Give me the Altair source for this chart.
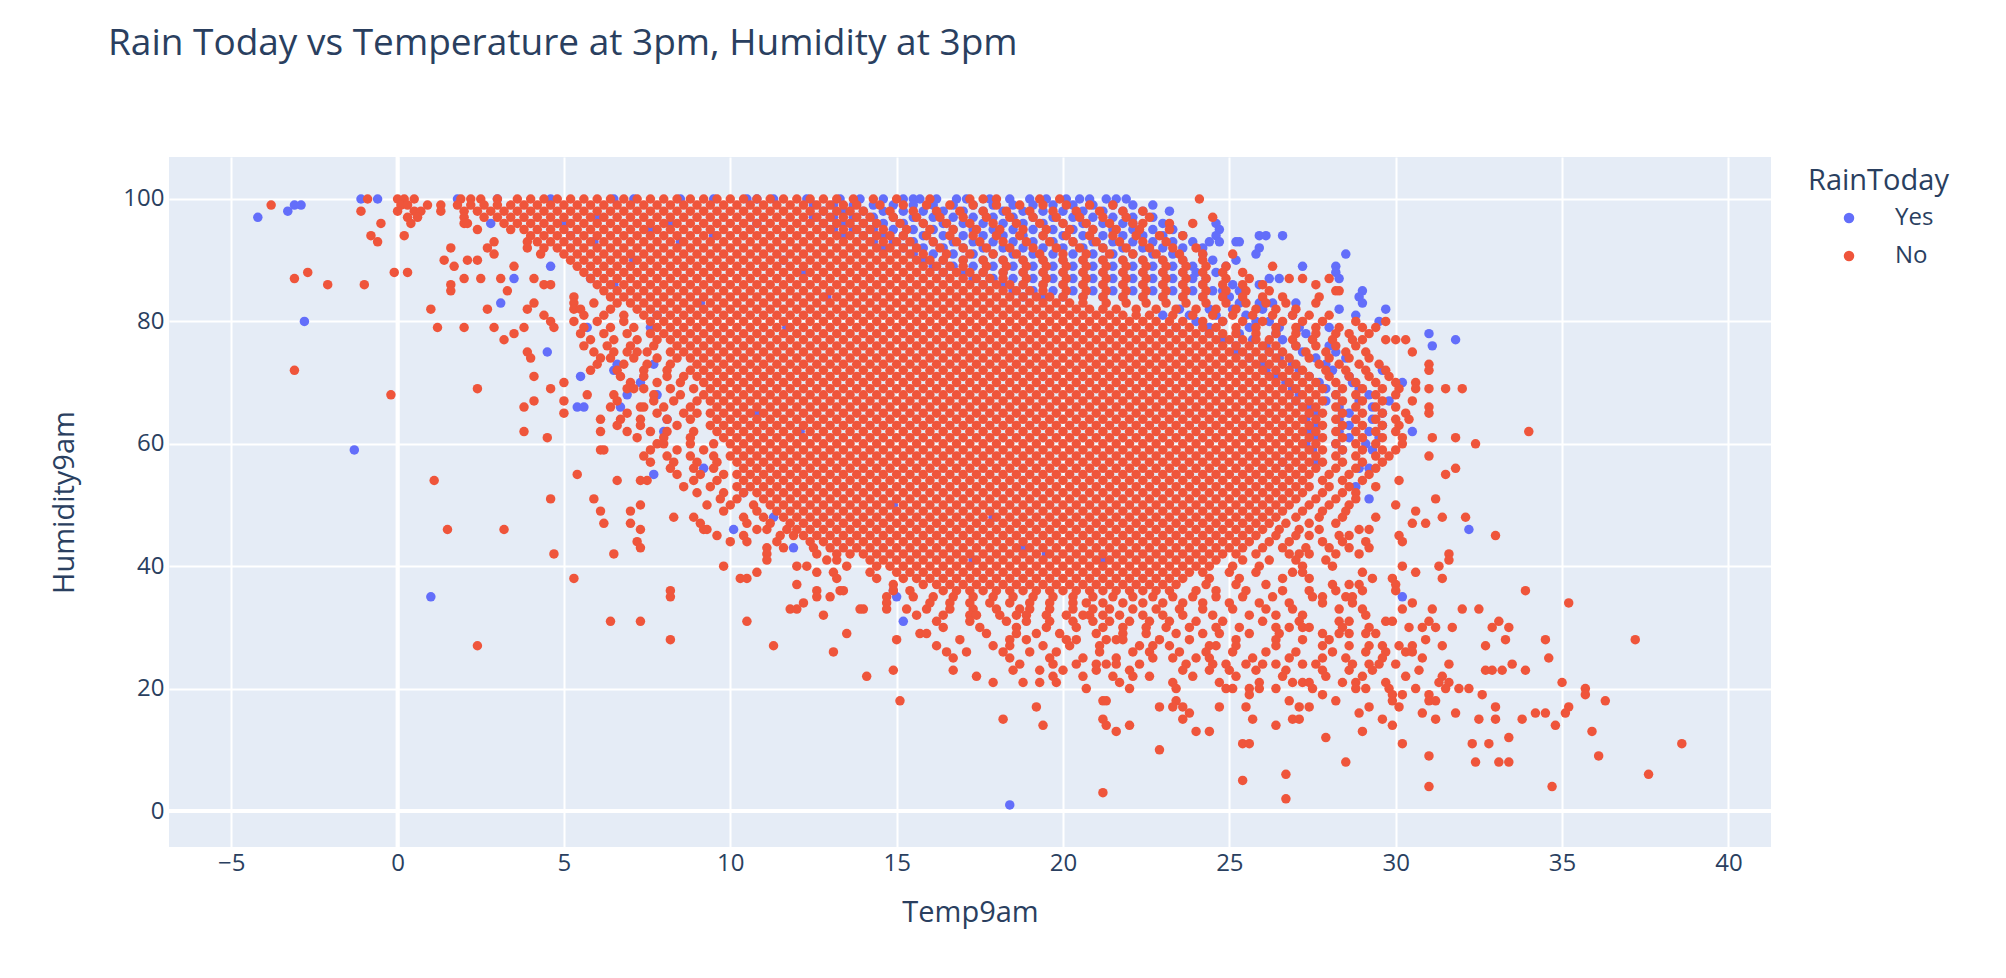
import altair as alt
import pandas as pd

# each row: "Humidity9am: Temp9am readings at that humidity"
# RainToday = No
no_upper = [
    "100: -0.9 0.0 0.2 0.5 1.9 2.2 2.5 3.0 3.6 4.0 4.4 4.8 5.2 5.6 6.0 6.4 6.8 7.2 7.6 8.0 8.4 8.8 9.2 9.6 10.0 10.4 10.8 11.2 11.6 12.0 12.4 12.8 13.2 13.7 14.3 15.0 16.0 17.2 17.6 18.0 19.3 19.9 24.1",
    "99: -3.8 0.1 0.3 0.9 1.3 1.8 2.2 2.6 3.0 3.4 3.8 4.2 4.6 5.0 5.4 5.8 6.2 6.6 7.0 7.4 7.8 8.2 8.6 9.0 9.4 9.8 10.2 10.6 11.0 11.4 11.8 12.2 12.6 13.0 13.4 13.8 14.5 15.2 15.9 16.6 17.3 18.0 18.7 19.4 20.1 20.8 21.5",
    "98: -1.1 0.0 0.5 0.7 1.3 2.0 2.4 2.8 3.2 3.6 4.0 4.4 4.8 5.2 5.6 6.0 6.4 6.8 7.2 7.6 8.0 8.4 8.8 9.2 9.6 10.0 10.4 10.8 11.2 11.6 12.0 12.4 12.8 13.2 13.6 14.0 14.8 15.5 16.2 16.9 17.6 18.3 19.0 19.7 20.4 21.1 21.8 22.4",
    "97: 0.3 0.6 2.0 2.6 3.0 3.4 3.8 4.2 4.6 5.0 5.4 5.8 6.2 6.6 7.0 7.4 7.8 8.2 8.6 9.0 9.4 9.8 10.2 10.6 11.0 11.4 11.8 12.2 12.6 13.0 13.4 13.8 14.2 14.9 15.6 16.3 17.0 17.7 18.4 19.1 19.8 20.5 21.2 21.9 22.6 24.5",
    "96: -0.5 0.4 2.0 2.1 3.2 3.6 4.0 4.4 4.8 5.2 5.6 6.0 6.4 6.8 7.2 7.6 8.0 8.4 8.8 9.2 9.6 10.0 10.4 10.8 11.2 11.6 12.0 12.4 12.8 13.2 13.6 14.0 14.4 15.1 15.8 16.5 17.2 17.9 18.6 19.3 20.0 20.7 21.4 22.1 22.4 23.2 23.9",
    "95: 2.4 3.4 3.8 4.2 4.6 5.0 5.4 5.8 6.2 6.6 7.0 7.4 7.8 8.2 8.6 9.0 9.4 9.8 10.2 10.6 11.0 11.4 11.8 12.2 12.6 13.0 13.4 13.8 14.2 14.6 15.3 16.0 16.7 17.4 18.1 18.8 19.5 20.2 20.9 21.6 22.3 23.2",
    "94: -0.8 0.2 4.0 4.4 4.8 5.2 5.6 6.0 6.4 6.8 7.2 7.6 8.0 8.4 8.8 9.2 9.6 10.0 10.4 10.8 11.2 11.6 12.0 12.4 12.8 13.2 13.6 14.0 14.4 14.8 15.2 15.9 16.6 17.3 18.0 18.7 19.4 20.1 20.8 21.5 22.2 22.9 23.6",
    "93: -0.6 2.9 3.9 4.2 4.6 5.0 5.4 5.8 6.2 6.6 7.0 7.4 7.8 8.2 8.6 9.0 9.4 9.8 10.2 10.6 11.0 11.4 11.8 12.2 12.6 13.0 13.4 13.8 14.2 14.6 15.0 15.4 16.1 16.8 17.5 18.2 18.9 19.6 20.3 21.0 21.7 22.4 23.1",
    "92: 1.6 2.7 3.9 4.4 4.8 5.2 5.6 6.0 6.4 6.8 7.2 7.6 8.0 8.4 8.8 9.2 9.6 10.0 10.4 10.8 11.2 11.6 12.0 12.4 12.8 13.2 13.6 14.0 14.4 14.8 15.2 15.6 16.3 17.0 17.7 18.4 19.1 19.8 20.5 21.2 21.9 22.6 23.3 24.0",
    "91: 2.9 4.3 5.0 5.4 5.8 6.2 6.6 7.0 7.4 7.8 8.2 8.6 9.0 9.4 9.8 10.2 10.6 11.0 11.4 11.8 12.2 12.6 13.0 13.4 13.8 14.2 14.6 15.0 15.4 15.8 16.5 17.2 17.9 18.6 19.3 20.0 20.7 21.4 22.1 22.8 23.5 24.2 25.1",
    "90: 1.4 2.1 2.4 5.2 5.6 6.0 6.4 6.8 7.2 7.6 8.0 8.4 8.8 9.2 9.6 10.0 10.4 10.8 11.2 11.6 12.0 12.4 12.8 13.2 13.6 14.0 14.4 14.8 15.2 15.6 16.0 16.4 17.0 17.6 18.2 18.8 19.4 20.0 20.6 21.2 21.8 22.4 23.0 23.6 24.2",
    "89: 1.7 3.5 5.4 5.8 6.2 6.6 7.0 7.4 7.8 8.2 8.6 9.0 9.4 9.8 10.2 10.6 11.0 11.4 11.8 12.2 12.6 13.0 13.4 13.8 14.2 14.6 15.0 15.4 15.8 16.2 16.6 17.0 17.7 18.3 18.9 19.5 20.1 20.7 21.3 21.9 22.5 23.1 23.7 24.3 24.9 26.3",
    "88: -2.7 -0.1 0.3 5.6 6.0 6.4 6.8 7.2 7.6 8.0 8.4 8.8 9.2 9.6 10.0 10.4 10.8 11.2 11.6 12.0 12.4 12.8 13.2 13.6 14.0 14.4 14.8 15.2 15.6 16.0 16.4 16.8 17.2 17.6 18.2 18.8 19.4 20.0 20.6 21.2 21.8 22.4 23.0 23.6 24.2 24.8 25.4",
    "87: -3.1 2.0 2.5 3.1 4.1 5.8 6.2 6.6 7.0 7.4 7.8 8.2 8.6 9.0 9.4 9.8 10.2 10.6 11.0 11.4 11.8 12.2 12.6 13.0 13.4 13.8 14.2 14.6 15.0 15.4 15.8 16.2 16.6 17.0 17.4 17.8 18.2 18.9 19.5 20.1 20.7 21.3 21.9 22.5 23.1 23.7 24.3 24.9 25.6 26.8 27.2 28.0",
    "86: -2.1 -1.0 1.6 4.4 4.6 6.0 6.4 6.8 7.2 7.6 8.0 8.4 8.8 9.2 9.6 10.0 10.4 10.8 11.2 11.6 12.0 12.4 12.8 13.2 13.6 14.0 14.4 14.8 15.2 15.6 16.0 16.4 16.8 17.2 17.6 18.0 18.4 18.8 19.4 20.0 20.6 21.2 21.8 22.4 23.0 23.6 24.2 24.8 25.4 26.0 27.6",
    "85: 1.6 3.3 6.2 6.6 7.0 7.4 7.8 8.2 8.6 9.0 9.4 9.8 10.2 10.6 11.0 11.4 11.8 12.2 12.6 13.0 13.4 13.8 14.2 14.6 15.0 15.4 15.8 16.2 16.6 17.0 17.4 17.8 18.2 18.6 19.0 19.4 20.1 20.7 21.3 21.9 22.5 23.1 23.7 24.3 24.9 25.5 26.2 28.2 28.3",
    "84: 5.3 6.4 6.8 7.2 7.6 8.0 8.4 8.8 9.2 9.6 10.0 10.4 10.8 11.2 11.6 12.0 12.4 12.8 13.2 13.6 14.0 14.4 14.8 15.2 15.6 16.0 16.4 16.8 17.2 17.6 18.0 18.4 18.8 19.2 19.6 20.0 20.6 21.2 21.8 22.4 23.0 23.6 24.2 24.8 25.4 26.0 26.6 27.7",
]

no_middle = [
    "83: 4.1 5.3 5.9 6.6 7.0 7.4 7.8 8.2 8.6 9.0 9.4 9.8 10.2 10.6 11.0 11.4 11.8 12.2 12.6 13.0 13.4 13.8 14.2 14.6 15.0 15.4 15.8 16.2 16.6 17.0 17.4 17.8 18.2 18.6 19.0 19.4 19.8 20.2 20.6 21.3 21.9 22.5 23.1 23.7 24.3 24.9 25.5 26.1 26.7 27.6",
    "82: 1.0 2.7 3.9 5.3 5.5 6.4 7.2 7.6 8.0 8.4 8.8 9.2 9.6 10.0 10.4 10.8 11.2 11.6 12.0 12.4 12.8 13.2 13.6 14.0 14.4 14.8 15.2 15.6 16.0 16.4 16.8 17.2 17.6 18.0 18.4 18.8 19.2 19.6 20.0 20.4 20.8 21.2 21.6 22.2 22.8 23.4 24.0 24.6 25.2 25.8 26.4 27.0",
    "81: 4.4 5.6 6.2 6.8 7.4 7.8 8.2 8.6 9.0 9.4 9.8 10.2 10.6 11.0 11.4 11.8 12.2 12.6 13.0 13.4 13.8 14.2 14.6 15.0 15.4 15.8 16.2 16.6 17.0 17.4 17.8 18.2 18.6 19.0 19.4 19.8 20.2 20.6 21.0 21.4 21.8 22.2 22.6 23.3 23.9 24.5 25.1 25.7 26.3 26.9 27.4 28.0",
    "80: 4.6 5.3 6.0 6.8 7.6 8.0 8.4 8.8 9.2 9.6 10.0 10.4 10.8 11.2 11.6 12.0 12.4 12.8 13.2 13.6 14.0 14.4 14.8 15.2 15.6 16.0 16.4 16.8 17.2 17.6 18.0 18.4 18.8 19.2 19.6 20.0 20.4 20.8 21.2 21.6 22.0 22.4 22.8 23.2 23.6 24.2 24.8 25.4 26.0 26.6 27.2 27.8 28.8 29.7",
    "79: 1.2 2.0 2.9 3.8 4.7 5.6 6.4 7.1 7.8 8.2 8.6 9.0 9.4 9.8 10.2 10.6 11.0 11.4 11.8 12.2 12.6 13.0 13.4 13.8 14.2 14.6 15.0 15.4 15.8 16.2 16.6 17.0 17.4 17.8 18.2 18.6 19.0 19.4 19.8 20.2 20.6 21.0 21.4 21.8 22.2 22.6 23.0 23.4 23.8 24.2 24.6 25.2 25.8 26.4 27.0 27.6 28.3 29.0 29.4",
    "78: 3.5 5.5 6.2 6.9 7.6 8.0 8.4 8.8 9.2 9.6 10.0 10.4 10.8 11.2 11.6 12.0 12.4 12.8 13.2 13.6 14.0 14.4 14.8 15.2 15.6 16.0 16.4 16.8 17.2 17.6 18.0 18.4 18.8 19.2 19.6 20.0 20.4 20.8 21.2 21.6 22.0 22.4 22.8 23.2 23.6 24.0 24.4 24.8 25.2 25.8 26.4 27.0 27.6 28.2 28.6 29.2",
    "77: 3.2 5.8 6.5 7.2 7.8 8.2 8.6 9.0 9.4 9.8 10.2 10.6 11.0 11.4 11.8 12.2 12.6 13.0 13.4 13.8 14.2 14.6 15.0 15.4 15.8 16.2 16.6 17.0 17.4 17.8 18.2 18.6 19.0 19.4 19.8 20.2 20.6 21.0 21.4 21.8 22.2 22.6 23.0 23.4 23.8 24.2 24.6 25.0 25.4 25.8 26.2 26.9 27.5 28.1 28.7 29.0 29.7 30.0 30.3",
    "76: 5.6 6.3 7.0 7.7 8.4 8.8 9.2 9.6 10.0 10.4 10.8 11.2 11.6 12.0 12.4 12.8 13.2 13.6 14.0 14.4 14.8 15.2 15.6 16.0 16.4 16.8 17.2 17.6 18.0 18.4 18.8 19.2 19.6 20.0 20.4 20.8 21.2 21.6 22.0 22.4 22.8 23.2 23.6 24.0 24.4 24.8 25.2 25.6 26.0 26.4 27.0 27.6 28.2 28.8",
    "75: 3.9 5.9 6.5 6.9 7.2 7.5 8.2 8.6 9.0 9.4 9.8 10.2 10.6 11.0 11.4 11.8 12.2 12.6 13.0 13.4 13.8 14.2 14.6 15.0 15.4 15.8 16.2 16.6 17.0 17.4 17.8 18.2 18.6 19.0 19.4 19.8 20.2 20.6 21.0 21.4 21.8 22.2 22.6 23.0 23.4 23.8 24.2 24.6 25.0 25.4 25.8 26.2 26.6 27.3 27.9 28.5 29.1 30.5",
    "74: 4.0 6.1 6.4 7.1 7.8 8.4 8.8 9.2 9.6 10.0 10.4 10.8 11.2 11.6 12.0 12.4 12.8 13.2 13.6 14.0 14.4 14.8 15.2 15.6 16.0 16.4 16.8 17.2 17.6 18.0 18.4 18.8 19.2 19.6 20.0 20.4 20.8 21.2 21.6 22.0 22.4 22.8 23.2 23.6 24.0 24.4 24.8 25.2 25.6 26.0 26.4 26.8 27.4 28.0 28.6 29.2",
    "73: 6.0 6.8 7.5 8.2 9.0 9.4 9.8 10.2 10.6 11.0 11.4 11.8 12.2 12.6 13.0 13.4 13.8 14.2 14.6 15.0 15.4 15.8 16.2 16.6 17.0 17.4 17.8 18.2 18.6 19.0 19.4 19.8 20.2 20.6 21.0 21.4 21.8 22.2 22.6 23.0 23.4 23.8 24.2 24.6 25.0 25.4 25.8 26.2 26.6 27.0 27.7 28.3 28.9 29.5 31.0",
    "72: -3.1 5.8 6.6 7.4 8.1 8.8 9.2 9.6 10.0 10.4 10.8 11.2 11.6 12.0 12.4 12.8 13.2 13.6 14.0 14.4 14.8 15.2 15.6 16.0 16.4 16.8 17.2 17.6 18.0 18.4 18.8 19.2 19.6 20.0 20.4 20.8 21.2 21.6 22.0 22.4 22.8 23.2 23.6 24.0 24.4 24.8 25.2 25.6 26.0 26.4 26.8 27.2 27.9 28.5 29.1 29.7 31.0",
    "71: 4.1 6.7 7.4 8.1 8.6 9.0 9.4 9.8 10.2 10.6 11.0 11.4 11.8 12.2 12.6 13.0 13.4 13.8 14.2 14.6 15.0 15.4 15.8 16.2 16.6 17.0 17.4 17.8 18.2 18.6 19.0 19.4 19.8 20.2 20.6 21.0 21.4 21.8 22.2 22.6 23.0 23.4 23.8 24.2 24.6 25.0 25.4 25.8 26.2 26.6 27.0 27.4 28.0 28.6 29.2 29.8",
    "70: 5.0 7.0 7.8 8.5 9.2 9.6 10.0 10.4 10.8 11.2 11.6 12.0 12.4 12.8 13.2 13.6 14.0 14.4 14.8 15.2 15.6 16.0 16.4 16.8 17.2 17.6 18.0 18.4 18.8 19.2 19.6 20.0 20.4 20.8 21.2 21.6 22.0 22.4 22.8 23.2 23.6 24.0 24.4 24.8 25.2 25.6 26.0 26.4 26.8 27.2 27.6 28.2 28.8 29.4 30.0 30.6",
    "69: 2.4 4.6 6.9 7.1 7.4 8.2 8.9 9.4 9.8 10.2 10.6 11.0 11.4 11.8 12.2 12.6 13.0 13.4 13.8 14.2 14.6 15.0 15.4 15.8 16.2 16.6 17.0 17.4 17.8 18.2 18.6 19.0 19.4 19.8 20.2 20.6 21.0 21.4 21.8 22.2 22.6 23.0 23.4 23.8 24.2 24.6 25.0 25.4 25.8 26.2 26.6 27.0 27.4 27.8 28.4 29.0 29.6 30.1 30.6 31.0 31.5 32.0",
    "68: -0.2 5.7 6.5 7.7 8.5 9.2 9.6 10.0 10.4 10.8 11.2 11.6 12.0 12.4 12.8 13.2 13.6 14.0 14.4 14.8 15.2 15.6 16.0 16.4 16.8 17.2 17.6 18.0 18.4 18.8 19.2 19.6 20.0 20.4 20.8 21.2 21.6 22.0 22.4 22.8 23.2 23.6 24.0 24.4 24.8 25.2 25.6 26.0 26.4 26.8 27.2 27.6 28.2 28.8 29.4 30.0",
    "67: 4.1 5.0 6.6 7.7 8.3 9.0 9.4 9.8 10.2 10.6 11.0 11.4 11.8 12.2 12.6 13.0 13.4 13.8 14.2 14.6 15.0 15.4 15.8 16.2 16.6 17.0 17.4 17.8 18.2 18.6 19.0 19.4 19.8 20.2 20.6 21.0 21.4 21.8 22.2 22.6 23.0 23.4 23.8 24.2 24.6 25.0 25.4 25.8 26.2 26.6 27.0 27.4 27.8 28.4 29.0 29.6 30.5",
    "66: 3.8 6.4 7.3 7.4 8.0 8.8 9.6 10.0 10.4 10.8 11.2 11.6 12.0 12.4 12.8 13.2 13.6 14.0 14.4 14.8 15.2 15.6 16.0 16.4 16.8 17.2 17.6 18.0 18.4 18.8 19.2 19.6 20.0 20.4 20.8 21.2 21.6 22.0 22.4 22.8 23.2 23.6 24.0 24.4 24.8 25.2 25.6 26.0 26.4 26.8 27.2 27.6 28.2 28.8 29.4 30.0 31.0",
    "65: 5.0 6.9 7.8 8.6 9.0 9.4 9.8 10.2 10.6 11.0 11.4 11.8 12.2 12.6 13.0 13.4 13.8 14.2 14.6 15.0 15.4 15.8 16.2 16.6 17.0 17.4 17.8 18.2 18.6 19.0 19.4 19.8 20.2 20.6 21.0 21.4 21.8 22.2 22.6 23.0 23.4 23.8 24.2 24.6 25.0 25.4 25.8 26.2 26.6 27.0 27.4 27.8 28.4 29.0 29.6 30.3 31.0",
    "64: 6.1 6.7 7.3 8.1 8.8 9.6 10.0 10.4 10.8 11.2 11.6 12.0 12.4 12.8 13.2 13.6 14.0 14.4 14.8 15.2 15.6 16.0 16.4 16.8 17.2 17.6 18.0 18.4 18.8 19.2 19.6 20.0 20.4 20.8 21.2 21.6 22.0 22.4 22.8 23.2 23.6 24.0 24.4 24.8 25.2 25.6 26.0 26.4 26.8 27.2 27.6 28.2 28.8 29.4 30.0 30.4",
    "63: 6.6 7.3 8.4 9.4 9.8 10.2 10.6 11.0 11.4 11.8 12.2 12.6 13.0 13.4 13.8 14.2 14.6 15.0 15.4 15.8 16.2 16.6 17.0 17.4 17.8 18.2 18.6 19.0 19.4 19.8 20.2 20.6 21.0 21.4 21.8 22.2 22.6 23.0 23.4 23.8 24.2 24.6 25.0 25.4 25.8 26.2 26.6 27.0 27.4 27.8 28.4 29.0 29.6 30.1",
    "62: 3.8 6.1 6.9 7.6 8.1 8.9 9.6 10.0 10.4 10.8 11.2 11.6 12.0 12.4 12.8 13.2 13.6 14.0 14.4 14.8 15.2 15.6 16.0 16.4 16.8 17.2 17.6 18.0 18.4 18.8 19.2 19.6 20.0 20.4 20.8 21.2 21.6 22.0 22.4 22.8 23.2 23.6 24.0 24.4 24.8 25.2 25.6 26.0 26.4 26.8 27.2 27.6 28.2 28.8 29.4 30.0 34.0",
    "61: 4.5 7.2 8.0 8.8 9.8 10.2 10.6 11.0 11.4 11.8 12.2 12.6 13.0 13.4 13.8 14.2 14.6 15.0 15.4 15.8 16.2 16.6 17.0 17.4 17.8 18.2 18.6 19.0 19.4 19.8 20.2 20.6 21.0 21.4 21.8 22.2 22.6 23.0 23.4 23.8 24.2 24.6 25.0 25.4 25.8 26.2 26.6 27.0 27.4 27.8 28.4 29.0 29.6 30.2 31.1 31.8",
    "60: 7.8 8.0 8.8 9.5 10.0 10.4 10.8 11.2 11.6 12.0 12.4 12.8 13.2 13.6 14.0 14.4 14.8 15.2 15.6 16.0 16.4 16.8 17.2 17.6 18.0 18.4 18.8 19.2 19.6 20.0 20.4 20.8 21.2 21.6 22.0 22.4 22.8 23.2 23.6 24.0 24.4 24.8 25.2 25.6 26.0 26.4 26.8 27.2 27.6 28.2 28.8 29.4 30.2 32.4",
]

no_lower = [
    "59: 6.1 6.2 7.6 8.4 9.2 10.2 10.6 11.0 11.4 11.8 12.2 12.6 13.0 13.4 13.8 14.2 14.6 15.0 15.4 15.8 16.2 16.6 17.0 17.4 17.8 18.2 18.6 19.0 19.4 19.8 20.2 20.6 21.0 21.4 21.8 22.2 22.6 23.0 23.4 23.8 24.2 24.6 25.0 25.4 25.8 26.2 26.6 27.0 27.4 27.8 28.4 29.0 29.6 30.0",
    "58: 7.4 8.1 8.8 9.5 10.0 10.4 10.8 11.2 11.6 12.0 12.4 12.8 13.2 13.6 14.0 14.4 14.8 15.2 15.6 16.0 16.4 16.8 17.2 17.6 18.0 18.4 18.8 19.2 19.6 20.0 20.4 20.8 21.2 21.6 22.0 22.4 22.8 23.2 23.6 24.0 24.4 24.8 25.2 25.6 26.0 26.4 26.8 27.2 27.6 28.2 28.8 29.4 29.8 31.0",
    "57: 7.6 8.3 9.0 9.6 10.2 10.6 11.0 11.4 11.8 12.2 12.6 13.0 13.4 13.8 14.2 14.6 15.0 15.4 15.8 16.2 16.6 17.0 17.4 17.8 18.2 18.6 19.0 19.4 19.8 20.2 20.6 21.0 21.4 21.8 22.2 22.6 23.0 23.4 23.8 24.2 24.6 25.0 25.4 25.8 26.2 26.6 27.0 27.4 27.8 28.4 29.0 29.6",
    "56: 8.2 8.9 9.5 10.4 10.8 11.2 11.6 12.0 12.4 12.8 13.2 13.6 14.0 14.4 14.8 15.2 15.6 16.0 16.4 16.8 17.2 17.6 18.0 18.4 18.8 19.2 19.6 20.0 20.4 20.8 21.2 21.6 22.0 22.4 22.8 23.2 23.6 24.0 24.4 24.8 25.2 25.6 26.0 26.4 26.8 27.2 27.6 28.2 28.8 29.4 31.8",
    "55: 5.4 8.4 9.1 9.8 10.2 10.6 11.0 11.4 11.8 12.2 12.6 13.0 13.4 13.8 14.2 14.6 15.0 15.4 15.8 16.2 16.6 17.0 17.4 17.8 18.2 18.6 19.0 19.4 19.8 20.2 20.6 21.0 21.4 21.8 22.2 22.6 23.0 23.4 23.8 24.2 24.6 25.0 25.4 25.8 26.2 26.6 27.0 27.4 28.0 28.6 29.2 31.5",
    "54: 1.1 6.6 7.3 7.5 8.9 9.6 10.4 10.8 11.2 11.6 12.0 12.4 12.8 13.2 13.6 14.0 14.4 14.8 15.2 15.6 16.0 16.4 16.8 17.2 17.6 18.0 18.4 18.8 19.2 19.6 20.0 20.4 20.8 21.2 21.6 22.0 22.4 22.8 23.2 23.6 24.0 24.4 24.8 25.2 25.6 26.0 26.4 26.8 27.2 27.8 28.4 29.0 30.1",
    "53: 8.6 9.4 10.2 10.6 11.0 11.4 11.8 12.2 12.6 13.0 13.4 13.8 14.2 14.6 15.0 15.4 15.8 16.2 16.6 17.0 17.4 17.8 18.2 18.6 19.0 19.4 19.8 20.2 20.6 21.0 21.4 21.8 22.2 22.6 23.0 23.4 23.8 24.2 24.6 25.0 25.4 25.8 26.2 26.6 27.0 27.4 28.0 28.6 29.4",
    "52: 9.0 9.8 10.4 10.8 11.2 11.6 12.0 12.4 12.8 13.2 13.6 14.0 14.4 14.8 15.2 15.6 16.0 16.4 16.8 17.2 17.6 18.0 18.4 18.8 19.2 19.6 20.0 20.4 20.8 21.2 21.6 22.0 22.4 22.8 23.2 23.6 24.0 24.4 24.8 25.2 25.6 26.0 26.4 26.8 27.2 27.8 28.4 28.8",
    "51: 4.6 5.9 9.7 10.2 11.0 11.4 11.8 12.2 12.6 13.0 13.4 13.8 14.2 14.6 15.0 15.4 15.8 16.2 16.6 17.0 17.4 17.8 18.2 18.6 19.0 19.4 19.8 20.2 20.6 21.0 21.4 21.8 22.2 22.6 23.0 23.4 23.8 24.2 24.6 25.0 25.4 25.8 26.2 26.6 27.0 27.6 28.2 28.8 31.2",
    "50: 7.3 9.3 10.0 10.7 11.2 11.6 12.0 12.4 12.8 13.2 13.6 14.0 14.4 14.8 15.2 15.6 16.0 16.4 16.8 17.2 17.6 18.0 18.4 18.8 19.2 19.6 20.0 20.4 20.8 21.2 21.6 22.0 22.4 22.8 23.2 23.6 24.0 24.4 24.8 25.2 25.6 26.0 26.4 26.8 27.4 28.0 28.6 30.0",
    "49: 6.1 7.0 9.8 10.8 11.4 11.8 12.2 12.6 13.0 13.4 13.8 14.2 14.6 15.0 15.4 15.8 16.2 16.6 17.0 17.4 17.8 18.2 18.6 19.0 19.4 19.8 20.2 20.6 21.0 21.4 21.8 22.2 22.6 23.0 23.4 23.8 24.2 24.6 25.0 25.4 25.8 26.2 26.6 27.2 27.8 28.5 30.6",
    "48: 8.3 8.9 10.4 11.0 11.6 12.0 12.4 12.8 13.2 13.6 14.0 14.4 14.8 15.2 15.6 16.0 16.4 16.8 17.2 17.6 18.0 18.4 18.8 19.2 19.6 20.0 20.4 20.8 21.2 21.6 22.0 22.4 22.8 23.2 23.6 24.0 24.4 24.8 25.2 25.6 26.0 26.4 27.0 27.7 28.4 29.4 31.4 32.1",
    "47: 6.2 7.0 9.1 10.5 11.2 11.8 12.2 12.6 13.0 13.4 13.8 14.2 14.6 15.0 15.4 15.8 16.2 16.6 17.0 17.4 17.8 18.2 18.6 19.0 19.4 19.8 20.2 20.6 21.0 21.4 21.8 22.2 22.6 23.0 23.4 23.8 24.2 24.6 25.0 25.4 25.8 26.2 26.7 27.4 28.2 30.5 30.9",
    "46: 1.5 3.2 7.3 9.2 9.3 10.8 11.1 11.7 12.0 12.4 12.8 13.2 13.6 14.0 14.4 14.8 15.2 15.6 16.0 16.4 16.8 17.2 17.6 18.0 18.4 18.8 19.2 19.6 20.0 20.4 20.8 21.2 21.6 22.0 22.4 22.8 23.2 23.6 24.0 24.4 24.8 25.2 25.6 26.0 26.5 27.1 27.7 28.9 29.2",
    "45: 9.6 10.4 11.5 11.9 12.2 12.6 13.0 13.4 13.8 14.2 14.6 15.0 15.4 15.8 16.2 16.6 17.0 17.4 17.8 18.2 18.6 19.0 19.4 19.8 20.2 20.6 21.0 21.4 21.8 22.2 22.6 23.0 23.4 23.8 24.2 24.6 25.0 25.4 25.8 26.4 27.0 27.4 28.3 28.6 30.1 33.0",
    "44: 7.2 10.0 10.5 11.4 12.4 12.8 13.2 13.6 14.0 14.4 14.8 15.2 15.6 16.0 16.4 16.8 17.2 17.6 18.0 18.4 18.8 19.2 19.6 20.0 20.4 20.8 21.2 21.6 22.0 22.4 22.8 23.2 23.6 24.0 24.4 24.8 25.2 25.6 26.2 26.8 27.8 28.4 29.1 30.2",
    "43: 7.3 11.1 11.6 12.5 13.0 13.4 13.8 14.2 14.6 15.0 15.4 15.8 16.2 16.6 17.0 17.4 17.8 18.2 18.6 19.0 19.4 19.8 20.2 20.6 21.0 21.4 21.8 22.2 22.6 23.0 23.4 23.8 24.2 24.6 25.0 25.4 26.0 26.6 27.3 28.0 28.6 29.2",
    "42: 4.7 6.5 11.1 12.6 13.2 13.6 14.0 14.4 14.8 15.2 15.6 16.0 16.4 16.8 17.2 17.6 18.0 18.4 18.8 19.2 19.6 20.0 20.4 20.8 21.2 21.6 22.0 22.4 22.8 23.2 23.6 24.0 24.4 24.8 25.2 25.8 26.8 27.1 27.4 28.2 28.9 31.6",
    "41: 11.1 12.9 13.2 14.2 14.6 15.0 15.4 15.8 16.2 16.6 17.0 17.4 17.8 18.2 18.6 19.0 19.4 19.8 20.2 20.6 21.0 21.4 21.8 22.2 22.6 23.0 23.4 23.8 24.2 24.6 25.4 26.2 27.0 27.9 31.6",
    "40: 9.8 12.0 12.3 13.5 14.4 14.8 15.2 15.6 16.0 16.4 16.8 17.2 17.6 18.0 18.4 18.8 19.2 19.6 20.0 20.4 20.8 21.2 21.6 22.0 22.4 22.8 23.2 23.6 24.0 24.4 25.1 25.9 27.2 28.1 30.2 31.3",
    "39: 10.8 12.6 13.1 14.2 15.0 15.4 15.8 16.2 16.6 17.0 17.4 17.8 18.2 18.6 19.0 19.4 19.8 20.2 20.6 21.0 21.4 21.8 22.2 22.6 23.0 23.4 23.8 24.2 25.0 25.8 26.9 27.2 29.0 30.6",
    "38: 5.3 10.3 10.5 13.2 14.4 15.2 15.6 16.0 16.4 16.8 17.2 17.6 18.0 18.4 18.8 19.2 19.6 20.0 20.4 20.8 21.2 21.6 22.0 22.4 22.8 23.2 23.6 24.4 25.3 26.6 27.4 29.3 29.9 31.4",
    "37: 12.0 14.9 15.8 16.2 16.6 17.0 17.4 17.8 18.2 18.6 19.0 19.4 19.8 20.2 20.6 21.0 21.4 21.8 22.2 22.6 23.0 23.4 24.3 25.2 26.1 28.1 28.6 28.9 30.0",
    "36: 8.2 12.6 13.3 13.4 14.9 15.4 16.4 16.8 17.2 17.6 18.0 18.4 18.8 19.2 19.6 20.0 20.4 20.8 21.2 21.6 22.0 22.4 22.8 23.2 24.0 24.6 25.5 26.6 27.4 28.2 29.0 30.0 33.9",
    "35: 8.2 12.6 13.0 14.7 15.5 16.1 16.7 17.3 17.9 18.5 19.1 19.7 20.3 20.9 21.5 22.1 22.7 23.3 23.9 24.6 25.4 26.3 27.5 27.8 28.5 28.7",
    "34: 12.2 14.7 16.0 16.6 17.2 17.8 18.4 19.0 19.6 20.3 20.7 21.2 21.8 22.4 23.0 23.6 24.2 25.0 25.9 26.8 27.8 28.7 30.5 35.2",
]

no_sparse = [
    "33: 11.8 12.0 13.9 14.0 14.7 15.3 15.9 16.6 17.3 18.0 18.7 19.0 19.6 20.3 20.9 21.4 22.1 22.8 23.5 24.2 25.1 26.1 26.9 28.3 29.0 30.2 31.1 32.0 32.5",
    "32: 12.8 15.6 16.4 17.2 17.4 18.1 18.6 18.9 19.5 20.1 20.6 20.8 21.2 21.7 22.4 23.0 23.6 24.5 25.6 26.4 27.2 29.1",
    "31: 6.4 7.3 10.5 16.2 17.2 18.3 18.9 19.6 20.3 20.9 21.4 22.0 22.6 23.2 24.0 24.8 26.0 27.1 28.3 28.6 29.7 29.9 31.0 33.1",
    "30: 16.4 17.5 18.6 19.5 20.4 21.2 21.8 22.5 23.1 23.8 24.6 25.3 26.4 26.8 27.2 27.4 28.4 29.2 30.4 30.8 31.2 31.7 32.9 33.4",
    "29: 13.5 15.7 15.9 17.7 18.6 19.2 19.9 21.0 21.8 22.5 23.4 24.2 24.7 25.6 26.5 27.8 28.3 28.6 29.1 29.4",
    "28: 8.2 15.0 16.9 18.4 18.9 20.1 20.4 21.3 21.6 21.8 22.9 23.8 25.2 26.4 27.2 28.0 30.9 33.3 34.5 37.2",
    "27: 2.4 11.3 16.2 17.9 18.4 19.4 20.2 21.1 22.3 22.7 23.2 24.4 24.6 25.2 26.4 27.8 28.6 29.2 29.6 30.1 30.5 31.4 32.7",
    "26: 13.1 16.5 17.1 18.2 19.0 19.8 21.1 22.1 22.6 23.5 24.3 25.1 26.1 27.0 28.1 29.1 29.7 30.3 30.5",
    "25: 16.7 18.4 19.6 20.6 21.6 22.7 23.3 24.0 24.4 25.7 26.8 27.8 28.5 29.6 30.8 34.6",
    "24: 18.7 19.7 20.4 21.0 21.3 21.6 22.3 23.7 24.5 24.9 25.5 26.0 26.4 27.2 27.6 28.7 29.2 29.5 30.0 31.6 33.5",
    "23: 14.9 16.7 18.5 19.3 20.0 21.0 22.0 23.6 24.4 25.0 25.8 26.7 27.8 28.6 29.3 30.7 32.7 32.9 33.2 33.9",
    "22: 14.1 17.4 19.7 20.6 21.5 22.1 22.6 23.9 25.2 26.6 27.9 29.0 30.3 31.4",
    "21: 17.9 18.8 19.3 19.8 21.7 23.3 24.7 25.9 26.9 27.2 27.4 28.4 28.8 29.7 31.3 31.6 35.0",
    "20: 20.7 22.0 23.4 24.9 25.1 25.6 25.9 26.4 27.5 28.8 29.1 29.8 30.6 31.5 31.9 32.2 35.7",
    "19: 25.6 27.8 29.9 30.2 31.0 32.6 35.7",
    "18: 15.1 21.2 21.3 23.4 26.8 28.2 29.9 31.0 31.2 36.3",
    "17: 19.2 22.9 23.3 23.6 24.7 25.5 27.1 27.4 29.2 30.1 33.0 35.2",
    "16: 23.8 28.9 30.8 31.8 34.2 34.5 35.1",
    "15: 18.2 21.2 23.6 25.7 26.9 27.1 29.6 31.2 32.5 33.0 33.8",
    "14: 19.4 21.3 22.0 26.4 29.9 34.8",
    "13: 21.6 24.0 24.4 29.0 35.9",
    "12: 27.9 33.4",
    "11: 25.4 25.6 30.2 32.3 32.8 38.6",
    "10: 22.9",
    "9: 31.0 36.1",
    "8: 28.5 32.4 33.1 33.4",
    "6: 26.7 37.6",
    "5: 25.4",
    "4: 31.0 34.7",
    "3: 21.2",
    "2: 26.7",
]

# RainToday = Yes
yes_upper = [
    "100: -1.1 -0.6 1.8 3.0 4.6 6.5 7.1 8.5 9.5 10.5 10.8 11.3 12.3 13.3 13.9 14.6 15.2 15.5 15.7 16.2 16.8 17.1 17.8 18.4 19.0 19.5 20.1 20.5 20.8 21.3 21.6 21.9",
    "99: -3.1 -2.9 12.5 13.1 13.7 14.3 14.9 15.5 16.1 16.7 17.3 17.9 18.5 19.1 19.7 20.3 20.9 21.5 22.1 22.7",
    "98: -3.3 12.8 13.4 14.0 14.6 15.2 15.8 16.4 17.0 17.6 18.2 18.8 19.4 20.0 20.6 21.2 21.8 22.4 23.2",
    "97: -4.2 6.0 12.5 13.1 13.7 14.3 14.9 15.5 16.1 16.7 17.3 17.9 18.5 19.1 19.7 20.3 20.9 21.5 22.1 22.7",
    "96: 2.8 5.0 8.2 10.8 12.8 13.4 14.0 14.6 15.2 15.8 16.4 17.0 17.6 18.2 18.8 19.4 20.0 20.6 21.2 21.8 22.1 23.0 24.6",
    "95: 7.6 13.1 13.7 14.3 14.9 15.5 16.1 16.7 17.3 17.9 18.5 19.1 19.7 20.3 20.9 21.5 22.1 22.7 23.3 24.7",
    "94: 5.2 9.5 13.4 14.0 14.6 15.2 15.8 16.4 17.0 17.6 18.2 18.8 19.4 20.0 20.6 21.2 21.8 22.4 23.0 23.6 24.6 25.9 26.1 26.6",
    "93: 5.9 8.5 14.3 14.9 15.5 16.1 16.7 17.3 17.9 18.5 19.1 19.7 20.3 20.9 21.5 22.1 22.7 23.3 23.9 24.4 24.7 25.2 25.3",
    "92: 14.6 15.2 15.8 16.4 17.0 17.6 18.2 18.8 19.4 20.0 20.6 21.2 21.8 22.4 23.0 23.6 24.2 25.9",
    "91: 15.5 16.1 16.7 17.3 17.9 18.5 19.1 19.7 20.3 20.9 21.5 22.1 22.7 23.3 24.2 25.8 28.5",
    "90: 7.1 11.6 15.8 16.4 17.0 17.6 18.2 18.8 19.4 20.0 20.6 21.2 21.8 22.4 23.0 23.6 24.5 25.2",
    "89: 4.6 16.1 16.7 17.3 17.9 18.5 19.1 19.7 20.3 20.9 21.5 22.1 22.7 23.3 23.9 24.9 27.2 28.2",
    "88: 12.2 16.4 17.0 17.6 18.2 18.8 19.4 20.0 20.6 21.2 21.8 22.4 23.0 23.6 24.0 24.6 28.2",
    "87: 3.5 5.8 17.3 17.9 18.5 19.1 19.7 20.3 20.9 21.5 22.1 22.7 23.3 23.9 24.3 26.2 26.5 28.3",
    "86: 6.5 17.6 18.2 18.8 19.4 20.0 20.6 21.2 21.8 22.4 23.0 23.6 24.2 25.1 25.9",
    "85: 18.5 19.1 19.7 20.3 20.9 21.5 22.1 22.7 23.3 23.9 24.5 24.8 25.3 29.0",
    "84: 12.9 18.8 19.4 20.0 20.6 21.2 21.8 22.4 23.0 23.6 24.2 25.0 28.9",
]

yes_right = [
    "83: 25.3 25.9 26.3 27.0 29.0",
    "82: 23.5 24.4 25.1 26.0 28.3 29.7",
    "81: 23.0 23.8 24.6 25.5 26.9 28.8",
    "80: 24.0 24.8 25.8 26.2 29.5",
    "79: 23.4 24.4 25.6 26.5 27.1 28.0",
    "78: 24.4 25.3 26.4 27.3 31.0",
    "77: 24.8 25.7 26.6 27.5 31.8",
    "76: 25.2 26.1 27.0 28.0 31.1",
    "75: 25.2 26.2 27.2 28.2",
    "74: 25.6 26.5 27.6 28.5",
    "73: 26.0 26.9 27.9",
    "72: 26.1 27.1 28.1 29.6",
    "71: 26.4 27.4 28.6",
    "70: 26.7 27.7 28.7 30.2",
    "69: 26.9 27.9 28.9",
    "68: 27.1 28.2 29.2",
    "67: 27.0 27.9 28.9 29.8",
    "66: 27.4 28.3 29.3",
    "65: 27.6 28.6 29.6",
    "64: 27.3 28.3 29.3",
    "63: 27.6 28.6 29.6",
    "62: 27.4 28.3 29.2 30.5",
    "61: 27.6 28.6 29.5",
    "60: 27.3 28.2 29.1",
    "59: 27.5 28.4 29.3",
    "57: 26.6 27.6",
    "56: 28.9 29.2",
    "53: 28.8",
    "51: 29.2",
]

yes_scatter = [
    "83: 3.1 9.1",
    "81: 7.8",
    "80: -2.8",
    "79: 5.7 7.6 11.7",
    "75: 4.5",
    "73: 6.6 7.7",
    "72: 6.5",
    "71: 5.5",
    "70: 7.3",
    "68: 6.9 7.8",
    "66: 5.4 5.6 6.7",
    "65: 10.8",
    "64: 8.1",
    "62: 8.0 12.1",
    "59: -1.3",
    "56: 9.2",
    "55: 7.7",
    "52: 10.4",
    "50: 14.9",
    "48: 11.3 17.9",
    "46: 10.1 32.2",
    "43: 11.9 18.8",
    "42: 19.5",
    "41: 17.3 21.2",
    "36: 14.9",
    "35: 1.0 15.0 30.2",
    "31: 15.2",
    "1: 18.4",
]


def unpack(rows, label):
    recs = []
    for row in rows:
        hum, temps = row.split(":")
        for t in temps.split():
            recs.append({"Temp9am": float(t), "Humidity9am": int(hum), "RainToday": label})
    return recs


# Yes first so the No points are drawn on top, as in the original
records = unpack(yes_upper + yes_right + yes_scatter, "Yes")
records += unpack(no_upper + no_middle + no_lower + no_sparse, "No")
df = pd.DataFrame(records)

ink = "#2a3f5f"
xscale = alt.Scale(domain=[-6.87, 41.28], nice=False, zero=False)
yscale = alt.Scale(domain=[-5.88, 106.86], nice=False, zero=False)

zero_x = alt.Chart(pd.DataFrame({"Temp9am": [0]})).mark_rule(
    color="white", strokeWidth=4
).encode(x=alt.X("Temp9am:Q", scale=xscale))

zero_y = alt.Chart(pd.DataFrame({"Humidity9am": [0]})).mark_rule(
    color="white", strokeWidth=4
).encode(y=alt.Y("Humidity9am:Q", scale=yscale))

points = alt.Chart(df).mark_circle(size=90, opacity=1, strokeWidth=0).encode(
    x=alt.X("Temp9am:Q", scale=xscale,
            axis=alt.Axis(values=list(range(-5, 45, 5)), title="Temp9am",
                          labelPadding=4, titlePadding=23)),
    y=alt.Y("Humidity9am:Q", scale=yscale,
            axis=alt.Axis(values=list(range(0, 101, 20)), title="Humidity9am",
                          labelPadding=5, titlePadding=43)),
    color=alt.Color(
        "RainToday:N",
        scale=alt.Scale(domain=["Yes", "No"], range=["#636efa", "#EF553B"]),
        legend=alt.Legend(
            title="RainToday", orient="none", legendX=1639, legendY=10,
            titleFontSize=29, titleFont="Open Sans", titleFontWeight="normal",
            titleColor=ink, titlePadding=10,
            labelFontSize=24, labelFont="Open Sans", labelColor=ink,
            symbolType="circle", symbolSize=110, symbolStrokeWidth=0,
            symbolOffset=29, labelOffset=34, rowPadding=14, padding=0,
        ),
    ),
)

chart = alt.layer(zero_x, zero_y, points).properties(
    width=1602,
    height=690,
    background="white",
    title=alt.TitleParams(
        text="Rain Today vs Temperature at 3pm, Humidity at 3pm",
        anchor="start", frame="group", dx=-61, offset=63, baseline="alphabetic",
        fontSize=37, font="Open Sans", fontWeight="normal", color=ink,
    ),
    autosize=alt.AutoSizeParams(type="none"),
    padding={"left": 161, "top": 149, "right": 225, "bottom": 120},
).configure_view(
    fill="#E5ECF6", stroke=None
).configure_axis(
    grid=True, gridColor="white", gridWidth=2, domain=False, ticks=False,
    labelFont="Open Sans", labelFontSize=24, labelColor=ink,
    titleFont="Open Sans", titleFontSize=29, titleColor=ink, titleFontWeight="normal",
)

chart.save("out.html", embed_options={"renderer": "svg", "actions": False})
